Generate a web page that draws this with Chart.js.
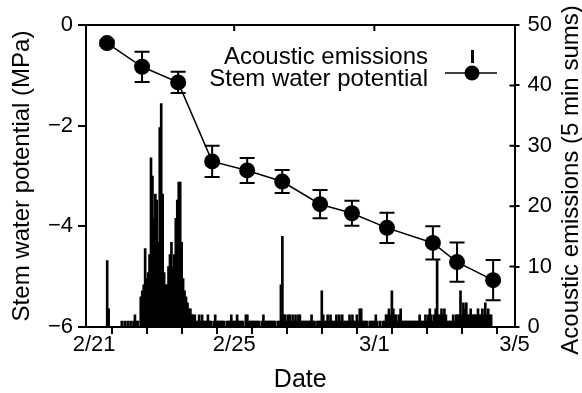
<!DOCTYPE html>
<html lang="en">
<head>
    <meta charset="UTF-8">
    <title>Stem water potential and acoustic emissions</title>
    <script src="https://cdn.jsdelivr.net/npm/chart.js"></script>
    <style>
        body { margin: 0; background: #fff; }
        canvas { display: block; }
    </style>
</head>
<body>
    <canvas id="aeChart" width="582" height="393"></canvas>

    <script>
        // x values are days counted from 2/21 00:00
        const dayTicks = [0, 1, 2, 3, 4, 5, 6, 7, 8, 9, 10, 11, 12];
        const labelDays = [0, 4, 8, 12];
        const labelNames = ['2/21', '2/25', '3/1', '3/5'];

        // Stem water potential (MPa), mean and error
        const swpDays = [0.37, 1.37, 2.40, 3.37, 4.37, 5.37, 6.45, 7.36, 8.36, 9.67, 10.36, 11.39];
        const swpMean = [-0.36, -0.83, -1.14, -2.71, -2.89, -3.11, -3.56, -3.74, -4.03, -4.33, -4.71, -5.07];
        const swpErr  = [0.05, 0.30, 0.21, 0.31, 0.25, 0.23, 0.28, 0.25, 0.30, 0.33, 0.39, 0.40];

        // Acoustic emissions (5 min sums), one value per hour, one row per day
        const aeCounts = [
            0,0,0,0,0,0,0,0,0,11,3,0,0,0,0,0,0,0,0,1,0,1,0,1,
            0,1,0,1,2,1,1,0,5,6,7,13,8,9,12,28,25,18,22,21,14,33,37,22,
            9,7,7,10,12,14,10,12,18,21,24,24,14,8,6,5,4,3,3,2,2,2,1,1,
            2,1,2,1,1,1,2,1,1,0,1,2,1,1,1,1,1,1,0,1,1,1,2,1,
            1,1,2,1,1,1,1,0,2,2,1,1,1,1,1,1,1,1,0,1,2,1,1,1,
            1,1,1,1,1,0,1,1,7,15,2,2,1,2,2,1,2,1,2,1,2,2,1,1,
            1,1,1,1,1,2,1,1,0,1,1,1,6,2,1,1,2,1,2,1,1,1,2,1,
            2,1,2,1,1,1,1,2,1,2,1,1,2,1,3,3,1,1,1,1,0,1,1,1,
            1,2,1,0,1,0,1,1,2,2,3,2,6,3,2,2,1,2,3,1,1,1,1,1,
            1,1,1,1,1,1,1,2,1,1,1,2,1,2,3,2,1,2,3,11,2,2,3,2,
            3,2,1,1,1,1,2,1,2,2,2,6,2,4,3,4,2,2,3,2,2,2,2,3,
            2,2,3,2,4,2,3,2,2,0,0,0,0,0,0,0,0,0,0,0,0,0,0,0
        ];

        const minus = v => (v < 0 ? '\u2212' + Math.abs(v) : '' + v);

        Chart.defaults.font.family = '"Liberation Sans", Arial, sans-serif';
        Chart.defaults.color = '#000';

        // error bars for the stem water potential points
        const errorBars = {
            id: 'errorBars',
            afterDatasetsDraw(chart) {
                const xs = chart.scales.x, ys = chart.scales.y, ctx = chart.ctx;
                ctx.save();
                ctx.strokeStyle = '#000';
                ctx.lineWidth = 2;
                swpDays.forEach((d, i) => {
                    const px = xs.getPixelForValue(d);
                    const top = ys.getPixelForValue(swpMean[i] + swpErr[i]);
                    const bot = ys.getPixelForValue(swpMean[i] - swpErr[i]);
                    ctx.beginPath();
                    ctx.moveTo(px, top); ctx.lineTo(px, bot);
                    ctx.moveTo(px - 7.5, top); ctx.lineTo(px + 7.5, top);
                    ctx.moveTo(px - 7.5, bot); ctx.lineTo(px + 7.5, bot);
                    ctx.stroke();
                });
                ctx.restore();
            }
        };

        // top border, inward ticks, legend and right axis title
        const frame = {
            id: 'frame',
            afterDraw(chart) {
                const {ctx, chartArea: a} = chart;
                const xs = chart.scales.x, y2 = chart.scales.y2;
                ctx.save();
                ctx.strokeStyle = '#000';
                ctx.lineWidth = 2;
                ctx.beginPath();
                ctx.moveTo(a.left, a.top); ctx.lineTo(a.right, a.top);
                labelDays.slice(1, -1).forEach(d => {
                    const px = xs.getPixelForValue(d);
                    ctx.moveTo(px, a.top); ctx.lineTo(px, a.top + 6);
                });
                y2.ticks.forEach(t => {
                    const py = y2.getPixelForValue(t.value);
                    ctx.moveTo(a.right - 5, py); ctx.lineTo(a.right, py);
                });
                ctx.stroke();

                // legend
                ctx.fillStyle = '#000';
                ctx.font = '24px "Liberation Sans", Arial, sans-serif';
                ctx.textAlign = 'right';
                ctx.textBaseline = 'middle';
                ctx.fillText('Acoustic emissions', 428, 57);
                ctx.fillText('Stem water potential', 428, 79);
                ctx.fillRect(471, 50, 3, 13);
                ctx.lineWidth = 1.5;
                ctx.beginPath();
                ctx.moveTo(445, 73); ctx.lineTo(497, 73);
                ctx.stroke();
                ctx.beginPath();
                ctx.arc(472, 73, 7.5, 0, Math.PI * 2);
                ctx.fill();

                // right axis title reads bottom to top
                ctx.translate(571, 180);
                ctx.rotate(-Math.PI / 2);
                ctx.textAlign = 'center';
                ctx.font = '24px "Liberation Sans", Arial, sans-serif';
                ctx.fillText('Acoustic emissions (5 min sums)', 0, 0);
                ctx.restore();
            }
        };

        const axisGrid = len => ({
            display: true,
            drawOnChartArea: false,
            drawTicks: true,
            tickLength: len,
            color: '#000',
            lineWidth: 2
        });
        const axisBorder = { display: true, color: '#000', width: 2 };

        new Chart(document.getElementById('aeChart').getContext('2d'), {
            type: 'bar',
            data: {
                datasets: [{
                    type: 'line',
                    label: 'Stem water potential',
                    data: swpDays.map((d, i) => ({ x: d, y: swpMean[i] })),
                    yAxisID: 'y',
                    borderColor: '#000',
                    borderWidth: 1.5,
                    pointRadius: 8,
                    pointBackgroundColor: '#000',
                    pointBorderWidth: 0,
                    order: 1
                }, {
                    type: 'bar',
                    label: 'Acoustic emissions',
                    data: aeCounts.map((v, i) => ({ x: i / 24, y: v })),
                    yAxisID: 'y2',
                    backgroundColor: '#000',
                    borderWidth: 0,
                    barThickness: 2,
                    order: 2
                }]
            },
            options: {
                responsive: false,
                animation: false,
                layout: { padding: { top: 25, left: 0, right: 0, bottom: 0 } },
                plugins: { legend: { display: false }, tooltip: { enabled: false } },
                scales: {
                    x: {
                        type: 'linear',
                        position: 'bottom',
                        min: -0.23,
                        max: 12,
                        offset: false,
                        afterBuildTicks: s => { s.ticks = dayTicks.map(v => ({ value: v })); },
                        afterFit: s => { s.height = 66; },
                        grid: axisGrid(7),
                        border: axisBorder,
                        ticks: {
                            autoSkip: false,
                            maxRotation: 0,
                            padding: -2,
                            font: { size: 22 },
                            callback: v => {
                                const k = labelDays.indexOf(v);
                                return k >= 0 ? labelNames[k] : '';
                            }
                        },
                        title: { display: true, text: 'Date', font: { size: 25, lineHeight: 1 }, padding: 0 }
                    },
                    y: {
                        position: 'left',
                        min: -6,
                        max: 0,
                        afterFit: s => { s.width = 86; },
                        grid: axisGrid(8),
                        border: axisBorder,
                        ticks: { stepSize: 2, padding: 5, font: { size: 22 }, callback: minus },
                        title: {
                            display: true,
                            text: 'Stem water potential (MPa)',
                            font: { size: 24, lineHeight: 1 },
                            padding: 10
                        }
                    },
                    y2: {
                        position: 'right',
                        min: 0,
                        max: 50,
                        afterFit: s => { s.width = 67.5; },
                        grid: axisGrid(5),
                        border: axisBorder,
                        ticks: { stepSize: 10, padding: 8, font: { size: 22 } }
                    }
                }
            },
            plugins: [errorBars, frame]
        });
    </script>
</body>
</html>
